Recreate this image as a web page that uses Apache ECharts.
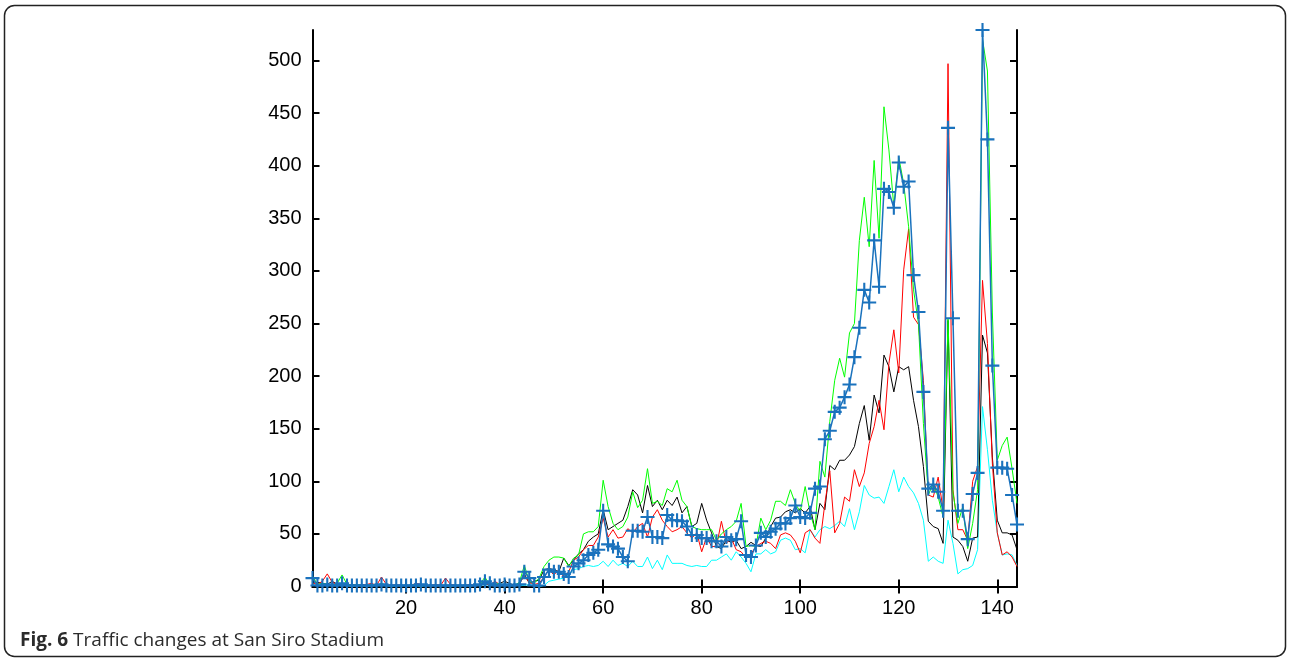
<!DOCTYPE html>
<html>
<head>
<meta charset="utf-8">
<title>Traffic changes at San Siro Stadium</title>
<script src="https://cdn.jsdelivr.net/npm/echarts@6/dist/echarts.min.js"></script>
<style>
  html, body { margin: 0; padding: 0; background: #fff; }
  #main { width: 1290px; height: 663px; }
</style>
</head>
<body>
<div id="main"></div>
<script>
// tick labels
var xTicks = [20, 40, 60, 80, 100, 120, 140];
var yTicks = [0, 50, 100, 150, 200, 250, 300, 350, 400, 450, 500];

// traffic per 10-minute slot, index 1..144
var blueVals = [
  8,1,1,2,1,1,3,1,1,1,
  1,1,1,1,2,1,1,1,1,1,
  1,1,2,1,1,1,1,1,1,1,
  1,1,1,1,2,5,3,1,1,2,
  1,1,2,14,8,1,1,9,16,14,
  14,12,9,19,22,25,30,32,35,72,
  40,38,36,28,24,53,53,52,66,47,
  47,46,68,63,63,62,57,49,49,46,
  46,43,43,38,47,44,45,62,30,28,
  39,51,47,52,55,60,60,65,77,66,
  65,70,93,95,140,148,166,170,180,192,
  218,246,282,270,329,285,378,375,360,403,
  380,385,296,261,185,93,97,90,72,436,
  255,72,72,45,88,108,529,425,210,113,
  113,112,87,59
];
var greenVals = [
  10,2,3,2,1,3,11,2,1,2,
  1,1,2,1,3,1,1,1,1,1,
  1,2,1,1,1,1,1,1,1,1,
  1,1,1,1,2,9,1,2,3,1,
  1,1,4,20,5,3,8,19,25,28,
  28,27,19,27,30,50,52,52,57,101,
  76,60,54,57,66,90,75,82,112,79,
  81,77,93,90,101,82,76,57,55,54,
  54,54,44,50,54,57,62,79,38,39,
  38,65,54,63,81,81,77,92,79,71,
  95,70,54,119,104,157,196,217,199,241,
  250,329,370,323,405,331,456,415,361,408,
  383,342,282,250,155,87,98,85,66,255,
  89,60,76,36,60,92,520,490,260,120,
  134,142,112,79
];
var blackVals = [
  3,4,3,2,5,2,3,1,2,1,
  2,1,1,2,1,1,1,1,1,1,
  1,2,1,1,1,1,1,1,1,1,
  1,1,1,1,1,5,2,1,3,5,
  3,1,2,12,3,5,6,16,17,16,
  14,27,20,25,31,35,43,47,50,73,
  54,57,60,63,76,92,87,70,96,76,
  82,73,82,77,85,70,76,57,60,79,
  63,51,38,36,44,42,44,36,38,42,
  39,38,46,57,65,66,71,73,70,74,
  70,76,54,79,73,115,111,120,120,125,
  133,155,172,139,182,165,220,209,185,209,
  206,209,177,152,114,62,57,55,41,253,
  47,44,38,24,46,47,239,222,123,63,
  51,51,49,35
];
var redVals = [
  3,2,5,12,4,2,3,2,1,2,
  1,2,3,1,9,2,1,2,1,1,
  1,3,2,1,1,2,1,8,2,1,
  1,1,2,1,1,3,1,5,2,1,
  2,1,3,10,4,2,3,9,16,11,
  16,9,14,25,28,35,39,39,47,65,
  47,54,46,47,55,51,57,60,47,66,
  73,63,57,52,54,57,51,46,51,33,
  47,38,38,62,41,46,35,33,27,31,
  38,41,43,41,36,49,51,49,43,32,
  51,54,46,41,79,110,51,60,85,81,
  111,95,108,136,152,177,149,212,244,203,
  301,340,256,249,196,87,85,104,73,497,
  92,54,54,44,100,114,291,231,117,51,
  30,33,28,19
];
var cyanVals = [
  2,1,1,1,1,2,1,1,0,1,
  1,0,1,1,1,1,0,1,1,1,
  1,1,0,1,1,1,1,1,0,1,
  1,1,1,1,1,2,1,1,1,1,
  1,1,1,1,2,1,0,1,5,6,
  7,8,11,16,17,19,20,19,20,24,
  19,25,20,22,19,24,19,19,28,17,
  25,16,30,22,22,22,20,19,20,19,
  19,25,25,28,31,25,33,28,22,14,
  31,31,35,31,33,44,46,44,35,36,
  32,54,47,54,57,55,58,62,57,74,
  54,71,96,87,84,85,79,95,111,90,
  104,95,89,79,63,24,28,24,22,63,
  41,12,16,17,20,35,171,130,82,51,
  30,31,30,20
];

function pairs(vals) {
  var out = [];
  for (var i = 0; i < vals.length; i++) {
    out.push([i + 1, vals[i]]);
  }
  return out;
}

var plusPath = 'path://M-1.5,-10 h3 v8.5 h8.5 v3 h-8.5 v8.5 h-3 v-8.5 h-8.5 v-3 h8.5 z';
var axisColor = '#000';

function lineSeries(vals, color, width) {
  return {
    type: 'line',
    data: pairs(vals),
    symbol: 'none',
    lineStyle: { color: color, width: width },
    itemStyle: { color: color },
    z: 2
  };
}

var myChart = echarts.init(document.getElementById('main'));

var blueSeries = lineSeries(blueVals, '#1a72bd', 1.5);
blueSeries.symbol = plusPath;
blueSeries.symbolSize = 14;
blueSeries.showAllSymbol = true;

var option = {
  animation: false,
  backgroundColor: '#fff',
  grid: { left: 312.5, top: 30, right: 273, bottom: 76.5 },
  xAxis: [{
    type: 'value', min: 1, max: 144, position: 'bottom',
    axisLine: { show: true, lineStyle: { color: axisColor, width: 2 } },
    axisTick: { show: true, inside: true, length: 7, customValues: xTicks, lineStyle: { color: axisColor, width: 2 } },
    axisLabel: { customValues: xTicks, fontSize: 20, color: '#000', fontFamily: 'Liberation Sans', margin: 12 },
    splitLine: { show: false }
  }, {
    type: 'value', min: 1, max: 144, position: 'top',
    axisLine: { show: true, lineStyle: { color: axisColor, width: 2 } },
    axisTick: { show: true, inside: true, length: 7, customValues: xTicks, lineStyle: { color: axisColor, width: 2 } },
    axisLabel: { show: false },
    splitLine: { show: false }
  }],
  yAxis: [{
    type: 'value', min: 0, max: 529, position: 'left',
    axisLine: { show: true, lineStyle: { color: axisColor, width: 2 } },
    axisTick: { show: true, inside: true, length: 7, customValues: yTicks, lineStyle: { color: axisColor, width: 2 } },
    axisLabel: { customValues: yTicks, fontSize: 20, color: '#000', fontFamily: 'Liberation Sans', margin: 11 },
    splitLine: { show: false }
  }, {
    type: 'value', min: 0, max: 529, position: 'right',
    axisLine: { show: true, lineStyle: { color: axisColor, width: 2 } },
    axisTick: { show: true, inside: true, length: 7, customValues: yTicks, lineStyle: { color: axisColor, width: 2 } },
    axisLabel: { show: false },
    splitLine: { show: false }
  }],
  series: [
    lineSeries(cyanVals, '#00ffff', 1),
    lineSeries(blackVals, '#000000', 1),
    lineSeries(redVals, '#ff0000', 1),
    lineSeries(greenVals, '#00ff00', 1),
    blueSeries
  ],
  graphic: [{
    type: 'rect',
    shape: { x: 4.5, y: 5.5, width: 1281, height: 651, r: 10 },
    style: { fill: 'none', stroke: '#222', lineWidth: 1.5 },
    silent: true
  }, {
    type: 'text',
    x: 20, y: 641,
    style: {
      text: '{b|Fig. 6} Traffic changes at San Siro Stadium',
      fontFamily: 'Open Sans',
      fontSize: 19,
      fill: '#2b2b2b',
      verticalAlign: 'middle',
      rich: {
        b: { fontWeight: 'bold', fontFamily: 'Open Sans', fontSize: 19, fill: '#2b2b2b' }
      }
    },
    silent: true
  }]
};

myChart.setOption(option);
</script>
</body>
</html>
